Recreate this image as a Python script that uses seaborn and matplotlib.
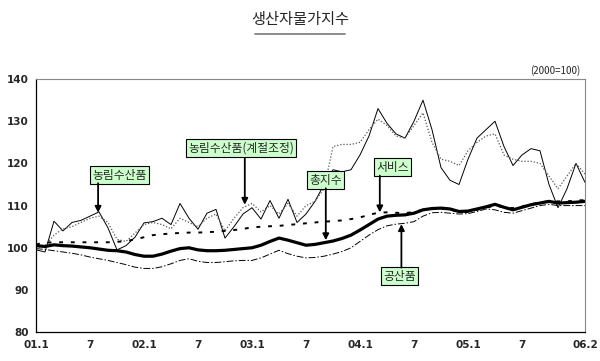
import numpy as np
import pandas as pd
import matplotlib
matplotlib.use('Agg')
import matplotlib.pyplot as plt
import seaborn as sns

# monthly, 2001.1 ~ 2006.2 (2000=100)
months = pd.period_range('2001-01', '2006-02', freq='M')
tick_labels = ['01.1', '7', '02.1', '7', '03.1', '7', '04.1', '7', '05.1', '7', '06.2']
tick_idx = [0, 6, 12, 18, 24, 30, 36, 42, 48, 54, 61]

farm = [99.5, 99.0, 106.3, 104.0, 106.0, 106.5, 107.5, 108.5, 104.7, 99.5,
        100.5, 102.5, 105.9, 106.2, 107.0, 105.5, 110.5, 107.0, 104.4, 108.2,
        109.1, 102.3, 105.0, 108.0, 109.5, 106.8, 111.2, 107.0, 111.5, 106.0,
        108.0, 111.0, 115.0, 118.5, 118.0, 118.5, 122.0, 126.5, 133.0, 129.5,
        127.0, 126.0, 130.0, 135.0, 128.0, 119.0, 116.0, 115.0, 121.0, 126.0,
        128.0, 130.0, 124.0, 119.5, 122.0, 123.5, 123.0, 115.0, 109.5, 114.0,
        120.0, 115.5]
farm_sa = [100.0, 100.5, 103.0, 104.5, 105.0, 106.0, 107.0, 107.5, 106.0, 102.0,
           101.5, 103.5, 105.5, 106.0, 105.5, 104.5, 107.0, 106.0, 105.0, 107.0,
           108.0, 104.0, 107.0, 109.5, 110.5, 108.5, 110.0, 108.0, 110.5, 107.5,
           110.0, 111.0, 114.0, 124.0, 124.5, 124.5, 125.0, 128.0, 130.5, 129.0,
           126.5, 126.0, 129.0, 132.0, 125.0, 121.0, 120.5, 119.5, 123.0, 125.0,
           126.5, 127.0, 122.0, 121.0, 120.5, 120.5, 120.0, 117.0, 114.0, 117.0,
           120.0, 117.5]
total = [100.5, 100.3, 100.7, 100.5, 100.4, 100.2, 100.0, 99.7, 99.4, 99.3,
         99.0, 98.4, 98.0, 98.0, 98.5, 99.2, 99.8, 100.0, 99.5, 99.3,
         99.3, 99.4, 99.6, 99.8, 100.0, 100.6, 101.5, 102.3, 101.8, 101.2,
         100.6, 100.8, 101.2, 101.6, 102.2, 103.0, 104.2, 105.5, 106.8, 107.5,
         107.7, 107.8, 108.2, 109.0, 109.3, 109.4, 109.2, 108.6, 108.7, 109.2,
         109.7, 110.3, 109.6, 109.0, 109.6, 110.2, 110.6, 111.0, 110.6, 110.7,
         110.8, 111.0]
services = [100.8, 101.2, 101.3, 101.3, 101.3, 101.3, 101.3, 101.3, 101.3, 101.4,
            101.6, 102.0, 102.5, 103.0, 103.2, 103.4, 103.5, 103.6, 103.6, 103.7,
            103.8, 104.0, 104.2, 104.5, 104.8, 105.0, 105.1, 105.2, 105.4, 105.6,
            105.8, 106.0, 106.2, 106.3, 106.5, 106.8, 107.2, 107.8, 108.3, 108.4,
            108.3, 108.2, 108.5, 109.0, 109.3, 109.3, 109.0, 108.5, 108.5, 109.0,
            109.5, 110.0, 109.6, 109.4, 109.8, 110.3, 110.8, 111.0, 111.0, 111.0,
            111.2, 111.3]
manuf = [99.8, 99.6, 99.3, 99.0, 98.7, 98.3, 97.8, 97.4, 97.0, 96.5,
         96.0, 95.4, 95.1, 95.1, 95.5, 96.2, 97.0, 97.4, 96.8, 96.5,
         96.5, 96.7, 96.9, 97.0, 97.0, 97.6, 98.5, 99.4, 98.6, 98.0,
         97.6, 97.7, 98.0, 98.5, 99.1, 100.0, 101.5, 103.0, 104.3, 105.2,
         105.6, 105.8, 106.2, 107.5, 108.3, 108.4, 108.2, 108.0, 108.1, 108.6,
         109.2, 109.0, 108.4, 108.2, 108.8, 109.4, 110.0, 110.3, 110.0, 110.0,
         110.0, 110.0]

sns.set_style('white')
plt.rcParams['font.family'] = ['Noto Sans CJK KR', 'DejaVu Sans']

fig = plt.figure(figsize=(6, 3.61), dpi=100)
ax = fig.add_axes([0.06, 0.08, 0.915, 0.701])

x = np.arange(len(months))
sns.lineplot(x=x, y=farm, ax=ax, color='black', lw=0.7)
sns.lineplot(x=x, y=farm_sa, ax=ax, color='#555555', lw=0.9, linestyle=(0, (1, 1.5)))
sns.lineplot(x=x, y=manuf, ax=ax, color='black', lw=0.7, linestyle=(0, (7, 2, 1.5, 2)))
sns.lineplot(x=x, y=services, ax=ax, color='black', lw=1.4, linestyle=(0, (2, 4)))
sns.lineplot(x=x, y=total, ax=ax, color='black', lw=2.3)

ax.set_xlim(0, len(months) - 1)
ax.set_ylim(80, 140)
ax.set_yticks(range(80, 141, 10))
ax.set_xticks(tick_idx)
ax.set_xticklabels(tick_labels, fontsize=7.5, fontweight='bold', family='DejaVu Sans')
ax.set_xticks(x, minor=True)
for lab in ax.get_yticklabels():
    lab.set_fontsize(7.5)
    lab.set_fontweight('bold')
    lab.set_family('DejaVu Sans')
ax.tick_params(axis='x', which='both', direction='in', length=3, width=0.6, pad=6)
ax.tick_params(axis='y', direction='out', length=3, width=0.6, pad=2)
for s in ['left', 'bottom']:
    ax.spines[s].set_color('black')
    ax.spines[s].set_linewidth(0.9)
for s in ['top', 'right']:
    ax.spines[s].set_color('#888888')
    ax.spines[s].set_linewidth(0.8)

fig.text(0.5, 0.945, '생산자물가지수', ha='center', va='center', fontsize=11)
fig.add_artist(plt.Line2D([0.425, 0.575], [0.905, 0.905], color='#777777', lw=1.2))
fig.text(0.968, 0.805, '(2000=100)', ha='right', va='center', fontsize=7)

box = dict(boxstyle='square,pad=0.2', fc='#ccffcc', ec='black', lw=0.8)
arrow = dict(arrowstyle='-|>', color='black', lw=1.3, mutation_scale=9, shrinkA=0, shrinkB=0)


def note(text, bx, by, ax_x, y0, y1):
    # label box, then a straight arrow from the box edge to the series
    ax.text(bx, by, text, ha='center', va='center', fontsize=8.5, bbox=box, zorder=5)
    ax.annotate('', xy=(ax_x, y1), xytext=(ax_x, y0), arrowprops=arrow, zorder=5)

note('농림수산품', 9.3, 117.2, 6.9, 115.3, 108.3)
note('농림수산품(계절조정)', 22.8, 123.6, 23.2, 121.2, 110.2)
note('총지수', 32.2, 116.0, 32.2, 114.1, 101.8)
note('서비스', 39.6, 119.1, 38.2, 117.1, 108.4)
note('공산품', 40.4, 93.3, 40.6, 95.3, 105.6)

fig.savefig('out.png', dpi=100)
